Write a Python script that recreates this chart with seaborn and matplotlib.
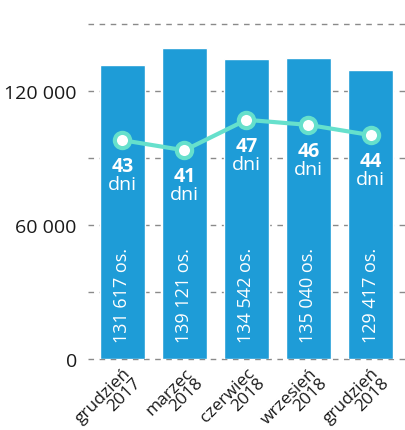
import numpy as np
import pandas as pd
import seaborn as sns
import matplotlib.pyplot as plt

# dane
okresy = ["grudzień\n2017", "marzec\n2018", "czerwiec\n2018", "wrzesień\n2018", "grudzień\n2018"]
osoby = [131617, 139121, 134542, 135040, 129417]
osoby_etykiety = ["131 617 os.", "139 121 os.", "134 542 os.", "135 040 os.", "129 417 os."]
dni = [43, 41, 47, 46, 44]
yticks = [0, 60000, 120000]
yticks_lab = ["0", "60 000", "120 000"]

sns.set_style("white")
plt.rcParams["font.family"] = ["Open Sans", "DejaVu Sans"]

df = pd.DataFrame({"okres": okresy, "osoby": osoby, "dni": dni})

fig = plt.figure(figsize=(4.05, 4.31), dpi=100)
ax = fig.add_axes([0.217, 0.1647, 0.783, 0.777])

# siatka przerywana
for v in range(0, 150001, 30000):
    ax.axhline(v, color="#8a8a8a", lw=1, ls=(0, (4, 4)), zorder=0, clip_on=False)

sns.barplot(data=df, x="okres", y="osoby", color="#1E9CD7", saturation=1,
            width=0.73, ax=ax, zorder=2)

for i, lab in enumerate(osoby_etykiety):
    ax.text(i, 7500, lab, rotation=90, ha="center", va="bottom",
            color="white", fontsize=13, zorder=3)

ax.set_xlim(-0.556, 4.556)
ax.set_ylim(0, 150000)
ax.set_yticks(yticks)
ax.set_yticklabels(yticks_lab, fontsize=14, color="#1a1a1a")
ax.set_xlabel("")
ax.set_ylabel("")
ax.tick_params(axis="y", length=0, pad=8)
ax.tick_params(axis="x", length=0, pad=4)
ax.set_xticks(range(len(okresy)))
ax.set_xticklabels(okresy, rotation=45, ha="right", rotation_mode="anchor",
                   fontsize=12.5, color="#1a1a1a", linespacing=0.85)
for t in ax.get_xticklabels():
    t.set_x(0)
sns.despine(ax=ax, left=True, bottom=True, right=True, top=True)

ax2 = ax.twinx()
ax2.set_ylim(0, 65.8)
ax2.plot(range(len(dni)), dni, color="#66E0CC", lw=3, marker="o", ms=11,
         mfc="white", mec="#66E0CC", mew=3, zorder=5)
for i, d in enumerate(dni):
    ax2.annotate(str(d), (i, d), xytext=(0, -26), textcoords="offset pixels",
                 ha="center", va="center", color="white", fontsize=14,
                 fontweight="bold")
    ax2.annotate("dni", (i, d), xytext=(0, -44), textcoords="offset pixels",
                 ha="center", va="center", color="white", fontsize=14)
ax2.set_yticks([])
for s in ax2.spines.values():
    s.set_visible(False)

plt.savefig("out.png", dpi=100)
